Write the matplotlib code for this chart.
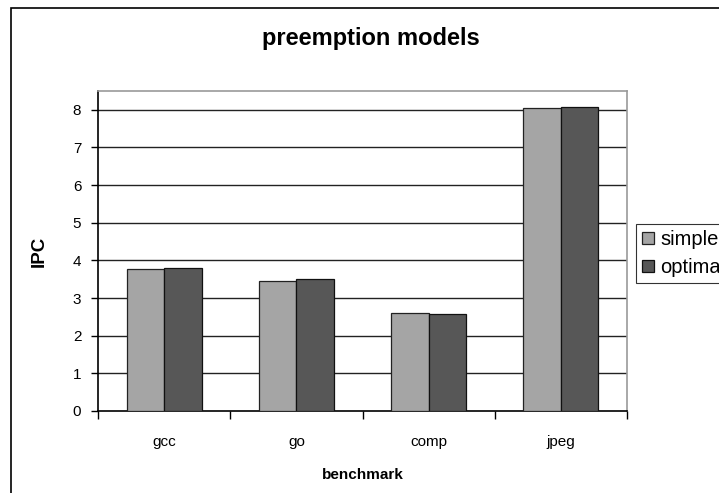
import matplotlib.pyplot as plt
import matplotlib.patches as mpatches
import numpy as np

# donnees
benchmarks = ['gcc', 'go', 'comp', 'jpeg']
simple = [3.78, 3.44, 2.61, 8.06]
optimal = [3.79, 3.50, 2.57, 8.08]
yticks = [0, 1, 2, 3, 4, 5, 6, 7, 8]

plt.rcParams['font.family'] = ['Liberation Sans', 'DejaVu Sans']

W, H = 719, 493
fig = plt.figure(figsize=(W / 100, H / 100), dpi=100)

# cadre exterieur (coupe a droite et en bas)
fig.patches.append(mpatches.Rectangle((11 / W, -0.1), 1.2, 1 - 8 / H + 0.1,
                                      transform=fig.transFigure, fill=False,
                                      edgecolor='black', linewidth=1.2))

ax = fig.add_axes([98 / W, (H - 411) / H, (627 - 98) / W, (411 - 91) / H])

x = np.arange(len(benchmarks))
w = 0.283
ax.bar(x - w / 2, simple, w, color='#a5a5a5', edgecolor='#222222', linewidth=0.9,
       label='simple', zorder=3)
ax.bar(x + w / 2, optimal, w, color='#575757', edgecolor='#111111', linewidth=0.9,
       label='optimal', zorder=3)

ax.set_xlim(-0.5, 3.5)
ax.set_ylim(0, 8.5)

for y in yticks[1:]:
    ax.axhline(y, color='#222222', linewidth=1.0, zorder=1)

ax.set_yticks(yticks)
ax.tick_params(axis='y', direction='out', length=5, width=1, pad=7, labelsize=11)
ax.set_xticks(np.arange(-0.5, 4, 1))
ax.set_xticklabels([])
ax.set_xticks(x, minor=True)
ax.set_xticklabels(benchmarks, minor=True)
ax.tick_params(axis='x', which='major', direction='out', length=6, width=1)
ax.tick_params(axis='x', which='minor', length=0, pad=17, labelsize=11)

for s in ['top', 'right']:
    ax.spines[s].set_color('#999999')
    ax.spines[s].set_linewidth(1.2)
for s in ['left', 'bottom']:
    ax.spines[s].set_color('black')
    ax.spines[s].set_linewidth(1.2)

ax.set_xlabel('benchmark', fontweight='bold', fontsize=11, labelpad=14)
ax.set_ylabel('IPC', fontweight='bold', fontsize=13.5, labelpad=18)
fig.text(371 / W, 1 - 38 / H, 'preemption models', ha='center', va='center',
         fontweight='bold', fontsize=17)

leg = ax.legend(loc='upper left', bbox_to_anchor=(636 / W, 1 - 224 / H),
                bbox_transform=fig.transFigure, fontsize=14.5, frameon=True,
                fancybox=False, borderpad=0.3, handlelength=0.6, handleheight=0.6,
                handletextpad=0.3, labelspacing=0.45, borderaxespad=0)
leg.get_frame().set_edgecolor('black')
leg.get_frame().set_linewidth(0.8)

fig.savefig('out.png', dpi=100)
